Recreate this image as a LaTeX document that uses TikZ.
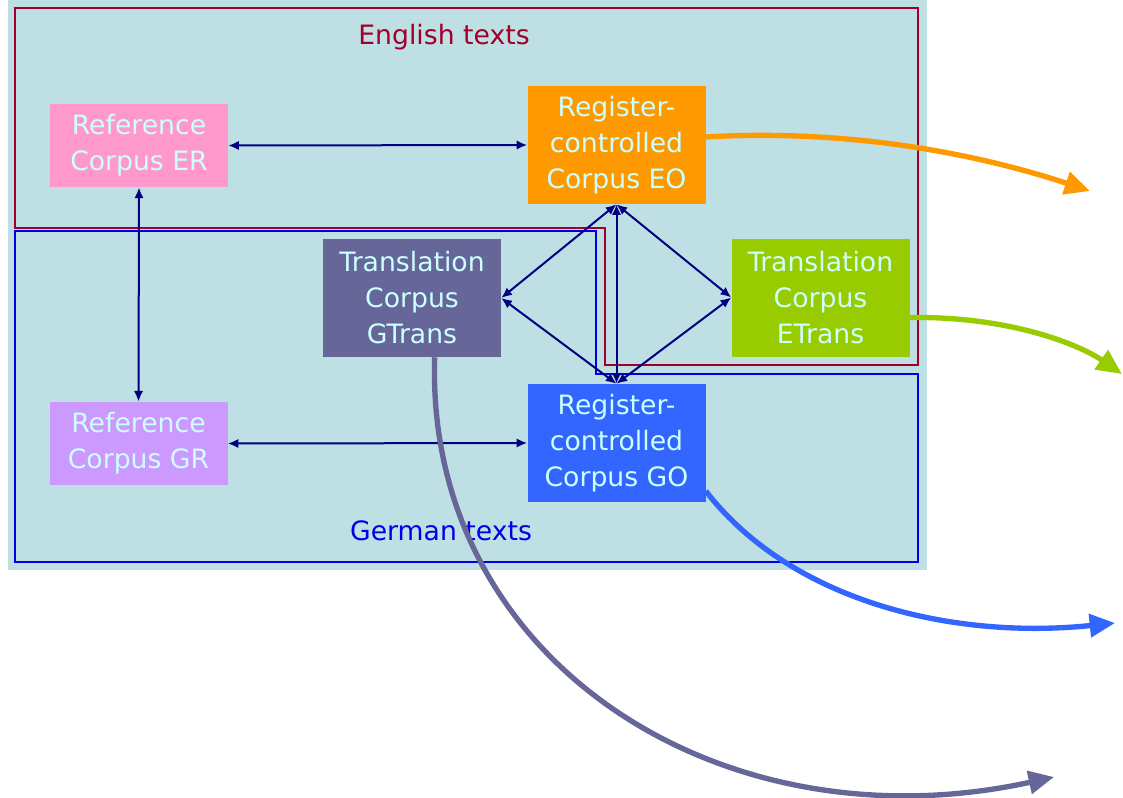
\documentclass[tikz,border=0pt]{standalone}
\usepackage{fontspec}
\setmainfont{DejaVu Sans}
\usetikzlibrary{arrows.meta}
\definecolor{bgc}{HTML}{BEE0E4}
\definecolor{engred}{HTML}{A0002A}
\definecolor{gerblue}{HTML}{0000E6}
\definecolor{navy}{HTML}{000080}
\definecolor{txtc}{HTML}{CCFFFF}
\definecolor{cER}{HTML}{FF99CC}
\definecolor{cEO}{HTML}{FF9900}
\definecolor{cGT}{HTML}{666699}
\definecolor{cET}{HTML}{99CC00}
\definecolor{cGR}{HTML}{CC99FF}
\definecolor{cGO}{HTML}{3366FF}
\tikzset{
  corpus/.style={inner sep=0pt, minimum width=133.5pt, align=center, text=txtc,
    font=\fontsize{20}{27}\selectfont},
  small/.style={corpus, minimum height=62.5pt},
  tall/.style={corpus, minimum height=88.5pt},
  link/.style={navy, line width=1.5pt, {Latex[length=8pt,width=7pt]}-{Latex[length=8pt,width=7pt]}},
  flow/.style={line width=4pt, -{Triangle[length=19pt,width=17pt]}},
  frame/.style={line width=2pt},
  title/.style={font=\fontsize{20}{24}\selectfont}
}
\begin{document}
\begin{tikzpicture}[x=0.75pt,y=-0.75pt]
\useasboundingbox (0,0) rectangle (1123,797);
\fill[white] (0,0) rectangle (1123,797);
\fill[bgc] (8,0) rectangle (927,570);
% frames
\draw[frame, engred] (15,8) -- (918,8) -- (918,365) -- (605,365) -- (605,228) -- (15,228) -- cycle;
\draw[frame, gerblue] (15,231) -- (596,231) -- (596,374) -- (918,374) -- (918,562) -- (15,562) -- cycle;
\node[title, text=engred] (ten) at (444,37) {English texts};
\node[title, text=gerblue] (tde) at (441,531) {German texts};
% corpora
\node[small, fill=cER] (ER) at (139,145.5) {Reference\\Corpus ER};
\node[tall, fill=cEO] (EO) at (616.5,145) {Register-\\controlled\\Corpus EO};
\node[tall, fill=cGT] (GT) at (412,298) {Translation\\Corpus\\GTrans};
\node[tall, fill=cET] (ET) at (820.5,297.5) {Translation\\Corpus\\ETrans};
\node[small, fill=cGR] (GR) at (138.5,443.5) {Reference\\Corpus GR};
\node[tall, fill=cGO] (GO) at (616.5,443) {Register-\\controlled\\Corpus GO};
% links
\draw[link] (ER.east) -- (EO.west);
\draw[link] (ER.south) -- (GR.north);
\draw[link] (GR.east) -- (GO.west);
\draw[link] (EO.south) -- (GT.east);
\draw[link] (EO.south) -- (ET.west);
\draw[link] (EO.south) -- (GO.north);
\draw[link] (GT.east) -- (GO.north);
\draw[link] (ET.west) -- (GO.north);
% outgoing flows
\coordinate (oEO) at (1090,191);
\coordinate (oET) at (1122,374);
\coordinate (oGO) at (1115,623);
\coordinate (oGT) at (1054,777);
\draw[flow, cEO] ([yshift=6pt]EO.east) .. controls (860,128) and (990,158) .. (oEO);
\draw[flow, cET] ([yshift=-15pt]ET.east) .. controls (1010,316) and (1080,345) .. (oET);
\draw[flow, cGO] ([yshift=-36pt]GO.east) .. controls (790,600) and (950,640) .. (oGO);
\draw[flow, cGT] ([xshift=17pt]GT.south) .. controls (425,660) and (720,850) .. (oGT);
\end{tikzpicture}
\end{document}
